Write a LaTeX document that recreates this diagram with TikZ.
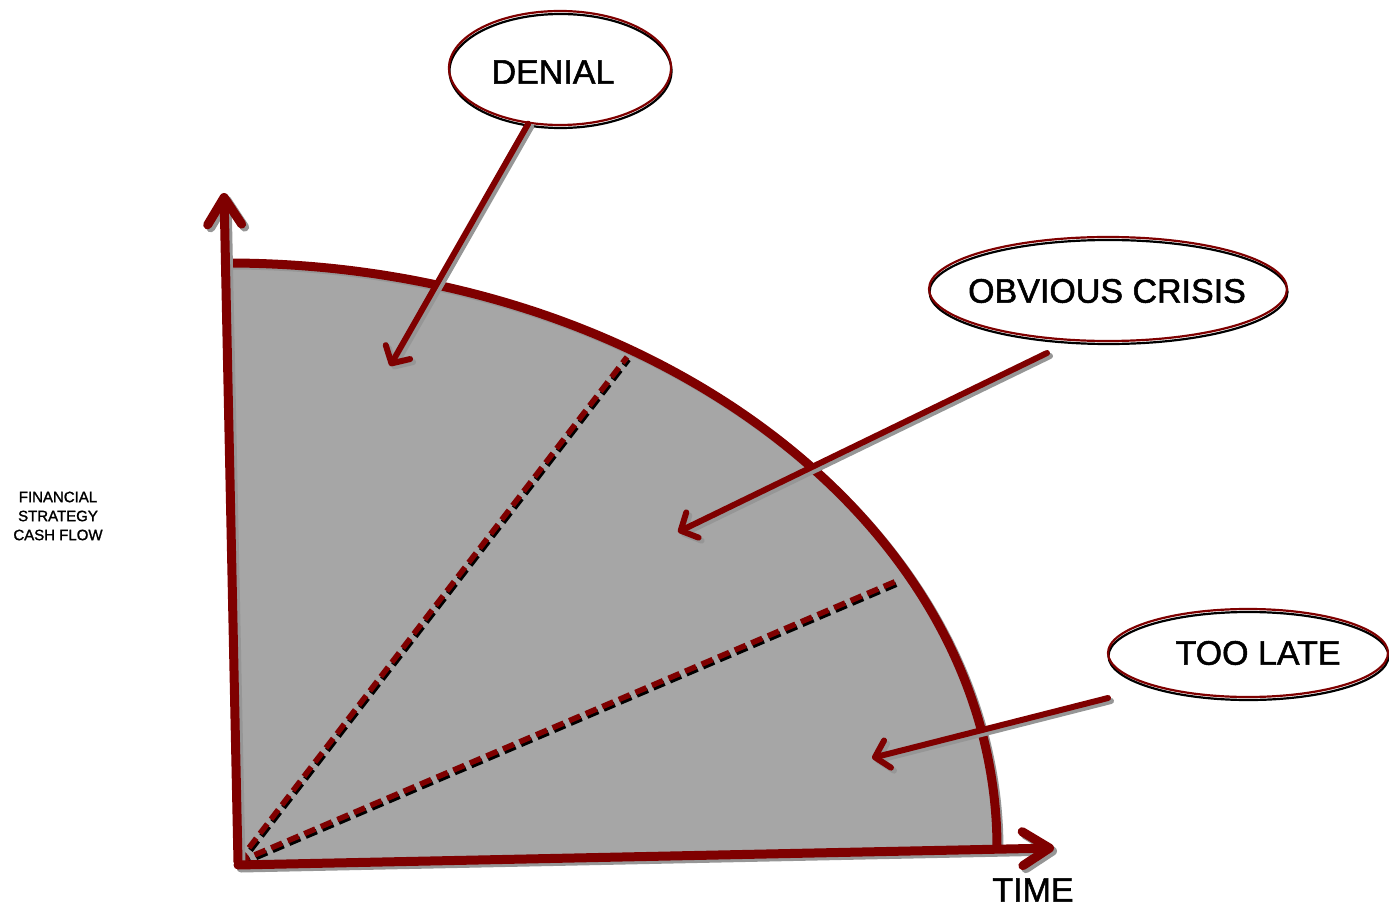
\documentclass[tikz,border=0pt]{standalone}
\usepackage{fontspec}
\setmainfont{Liberation Sans}[FakeBold=1.5]
\usetikzlibrary{arrows.meta,shapes.geometric,shadows}
\definecolor{dred}{HTML}{7F0000}
\definecolor{fillgray}{HTML}{A6A6A6}
\definecolor{shad}{HTML}{969696}
\begin{document}
\begin{tikzpicture}[x=1pt,y=-1pt,
  axisline/.style={line width=9pt,line cap=round,line join=round,
    -{Straight Barb[length=27pt,width=34pt,round]}},
  callout/.style={line width=6pt,line cap=round,line join=round,
    -{Straight Barb[length=13pt,width=28pt,round]}},
  shadowed/.style={draw=shad,transform canvas={shift={(3pt,-3pt)}}},
  dashline/.style={line width=5.5pt,dash pattern=on 12pt off 6pt},
  bubble/.style={ellipse,draw=dred,line width=2.2pt,inner sep=0pt,
    general shadow={shadow xshift=0.5pt,shadow yshift=-3pt,fill=white,draw=black,line width=2.2pt}},
  bigtext/.style={font=\fontsize{34}{40}\selectfont,text=black},
  smalltext/.style={font=\fontsize{15}{19}\selectfont,align=center,text=black}]
\useasboundingbox (0,0) rectangle (1389,909);

% coordinates
\coordinate (o) at (238,862);
\coordinate (ytop) at (224,193);
\coordinate (ho) at (238,865);
\coordinate (xend) at (1054,848);
\coordinate (top) at (227,263);
\coordinate (right) at (997,848);
\coordinate (c1) at (652,263);
\coordinate (c2) at (997,525);
\coordinate (d1) at (627,357);
\coordinate (d2) at (899,580);

% filled quarter
\fill[fillgray] (o) -- (top) .. controls (c1) and (c2) .. (right) -- cycle;

% dashed dividers (black shadow then red)
\draw[dashline,draw=black,transform canvas={shift={(1.5pt,-2.5pt)}}] (o) -- (d1);
\draw[dashline,draw=black,transform canvas={shift={(1.5pt,-2.5pt)}}] (o) -- (d2);
\draw[dashline,draw=dred] (o) -- (d1);
\draw[dashline,draw=dred] (o) -- (d2);

% arc
\draw[shad,line width=9pt,transform canvas={shift={(2pt,-2pt)}}] (top) .. controls (c1) and (c2) .. (right);
\draw[dred,line width=9pt] (top) .. controls (c1) and (c2) .. (right);

% axes
\draw[axisline,shadowed] (o) -- (ytop);
\draw[axisline,shadowed] (ho) -- (xend);
\draw[axisline,draw=dred] (o) -- (ytop);
\draw[axisline,draw=dred] (ho) -- (xend);

% bubbles
\node[bubble,minimum width=222pt,minimum height=114pt] (denial) at (560,68) {};
\node[bubble,minimum width=358pt,minimum height=104pt] (crisis) at (1108,289) {};
\node[bubble,minimum width=280pt,minimum height=88pt] (late) at (1248,653) {};
\node[bigtext] (denialtxt) at (553,72) {DENIAL};
\node[bigtext] (crisistxt) at (1107,291) {OBVIOUS CRISIS};
\node[bigtext] (latetxt) at (1258,653) {TOO LATE};

% callout arrows
\coordinate (dtip) at (390,366);
\coordinate (cstart) at (1047,353);
\coordinate (ctip) at (678,532);
\coordinate (lstart) at (1108,698);
\coordinate (ltip) at (872,758);
\draw[callout,shadowed] (denial) -- (dtip);
\draw[callout,shadowed] (cstart) -- (ctip);
\draw[callout,shadowed] (lstart) -- (ltip);
\draw[callout,draw=dred] (denial) -- (dtip);
\draw[callout,draw=dred] (cstart) -- (ctip);
\draw[callout,draw=dred] (lstart) -- (ltip);

% labels
\node[bigtext] (time) at (1033,890) {TIME};
\node[smalltext] (ylab) at (58,516) {FINANCIAL\\STRATEGY\\CASH FLOW};
\end{tikzpicture}
\end{document}
